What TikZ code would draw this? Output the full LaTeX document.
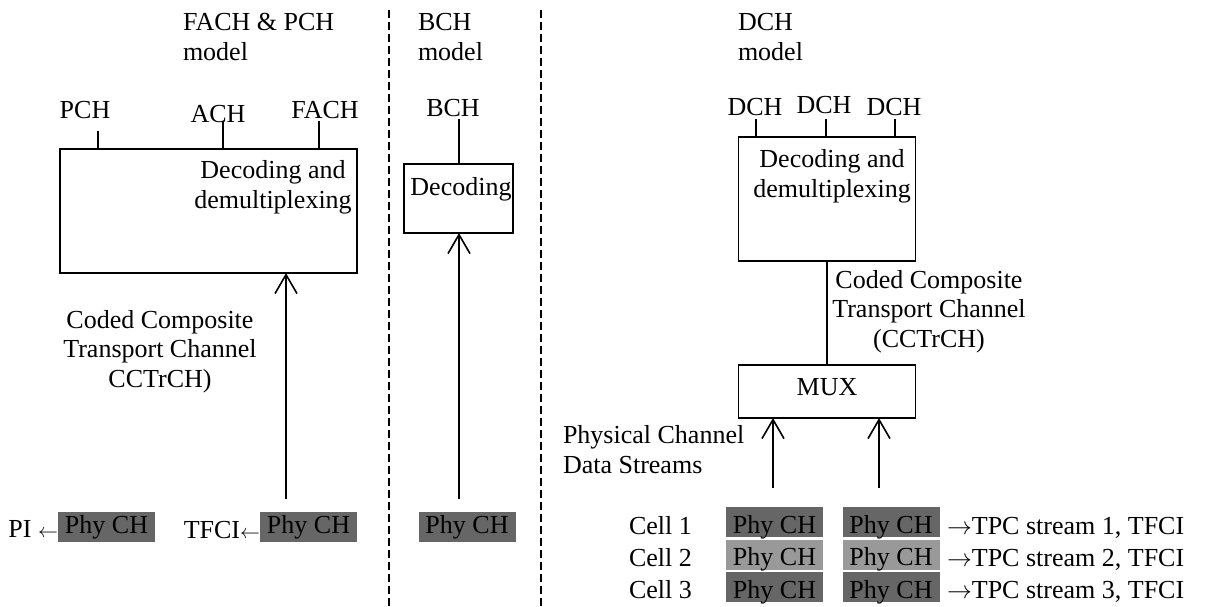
\documentclass[tikz,border=0pt]{standalone}
\usepackage{fontspec}
\setmainfont{Liberation Serif}
\usetikzlibrary{arrows.meta}
\definecolor{darkph}{RGB}{102,102,102}
\definecolor{lightph}{RGB}{153,153,153}
\newcommand{\smallleft}{\scalebox{0.8}{$\leftarrow$}}
\begin{document}
\begin{tikzpicture}[x=1pt,y=-1pt,
  every node/.style={font=\fontsize{26}{29.5}\selectfont, inner sep=0pt, outer sep=0pt},
  box/.style={draw, line width=1.6pt, inner sep=0pt},
  ln/.style={line width=1.6pt},
  arr/.style={line width=1.6pt, -{Straight Barb[length=19pt,width=22pt,line width=1.6pt]}},
  sep/.style={line width=1.2pt, dash pattern=on 8pt off 4pt},
  phbox/.style={minimum width=97pt, minimum height=30pt, text height=20pt, text depth=8pt},
  cellbox/.style={minimum width=97pt, minimum height=30pt, text height=26pt, text depth=4pt}]
\useasboundingbox (0,0) rectangle (1208,606);
% separators
\coordinate (d1t) at (389,10); \coordinate (d1b) at (389,606);
\coordinate (d2t) at (541,10); \coordinate (d2b) at (541,606);
\draw[sep] (d1t) -- (d1b);
\draw[sep] (d2t) -- (d2b);
% titles (base = last line)
\node[anchor=base west, align=left] (t1) at (183,60) {FACH \& PCH\\model};
\node[anchor=base west, align=left] (t2) at (418,60) {BCH\\model};
\node[anchor=base west, align=left] (t3) at (738,60) {DCH\\model};
% FACH & PCH model
\node[box, minimum width=297pt, minimum height=124pt] (fach) at (208.5,211) {};
\node[anchor=base, align=center] (fachtxt) at (273,208) {Decoding and\\demultiplexing};
\node[anchor=base] (pch) at (85,118) {PCH};
\node[anchor=base] (ach) at (218,122) {ACH};
\node[anchor=base] (fachl) at (325,118) {FACH};
\coordinate (pcht) at (98,131);
\coordinate (acht) at (223,121);
\coordinate (facht) at (319,121);
\draw[ln] (pcht) -- (pcht |- fach.north);
\draw[ln] (acht) -- (acht |- fach.north);
\draw[ln] (facht) -- (facht |- fach.north);
\node[anchor=base, align=center] (cc1) at (160,387) {Coded Composite\\Transport Channel\\CCTrCH)};
\node[phbox, fill=darkph] (piph) at (106.5,527) {Phy CH};
\node[anchor=base east] (pitxt) at (58,537) {PI \smallleft};
\node[phbox, fill=darkph] (tfph) at (308.5,527) {Phy CH};
\node[anchor=base east] (tftxt) at (260,538) {TFCI\smallleft};
\coordinate (a1) at (286,499);
\draw[arr] (a1) -- (a1 |- fach.south);
% BCH model
\node[anchor=base] (bchl) at (453,116) {BCH};
\coordinate (bcht) at (459,119);
\node[box, minimum width=109pt, minimum height=69pt] (bch) at (458.5,198.5) {};
\draw[ln] (bcht) -- (bcht |- bch.north);
\node[anchor=base] (bchtxt) at (461,195) {Decoding};
\node[phbox, fill=darkph] (bchph) at (467,527) {Phy CH};
\coordinate (a2) at (459,499);
\draw[arr] (a2) -- (a2 |- bch.south);
% DCH model
\node[box, minimum width=177pt, minimum height=124pt] (dch) at (827,199) {};
\node[anchor=base] (dch1) at (755,115) {DCH};
\node[anchor=base] (dch2) at (824,113) {DCH};
\node[anchor=base] (dch3) at (894,115) {DCH};
\coordinate (dt1) at (756,119);
\coordinate (dt2) at (826,119);
\coordinate (dt3) at (895,119);
\draw[ln] (dt1) -- (dt1 |- dch.north);
\draw[ln] (dt2) -- (dt2 |- dch.north);
\draw[ln] (dt3) -- (dt3 |- dch.north);
\node[anchor=base, align=center] (dchtxt) at (832,197) {Decoding and\\demultiplexing};
\node[box, minimum width=177pt, minimum height=53pt] (mux) at (827,391.5) {};
\node[anchor=base] (muxtxt) at (827,395) {MUX};
\draw[ln] (dch.south) -- (mux.north);
\node[anchor=base, align=center] (cc2) at (929,347) {Coded Composite\\Transport Channel\\(CCTrCH)};
\node[anchor=base west, align=left] (pcds) at (563,473) {Physical Channel\\Data Streams};
\coordinate (m1) at (773,488);
\coordinate (m2) at (879,488);
\draw[arr] (m1) -- (m1 |- mux.south);
\draw[arr] (m2) -- (m2 |- mux.south);
% cells
\node[cellbox, fill=darkph] (c1a) at (774.5,522) {Phy CH};
\node[cellbox, fill=darkph] (c1b) at (891,522) {Phy CH};
\node[cellbox, fill=lightph] (c2a) at (774.5,554.5) {Phy CH};
\node[cellbox, fill=lightph] (c2b) at (891,554.5) {Phy CH};
\node[cellbox, fill=darkph] (c3a) at (774.5,587) {Phy CH};
\node[cellbox, fill=darkph] (c3b) at (891,587) {Phy CH};
\node[anchor=base west] (cell1) at (629,534) {Cell 1};
\node[anchor=base west] (cell2) at (629,566) {Cell 2};
\node[anchor=base west] (cell3) at (629,598) {Cell 3};
\node[anchor=base west] (tpc1) at (947,534) {$\rightarrow$TPC stream 1, TFCI};
\node[anchor=base west] (tpc2) at (947,566) {$\rightarrow$TPC stream 2, TFCI};
\node[anchor=base west] (tpc3) at (947,598) {$\rightarrow$TPC stream 3, TFCI};
\end{tikzpicture}
\end{document}
